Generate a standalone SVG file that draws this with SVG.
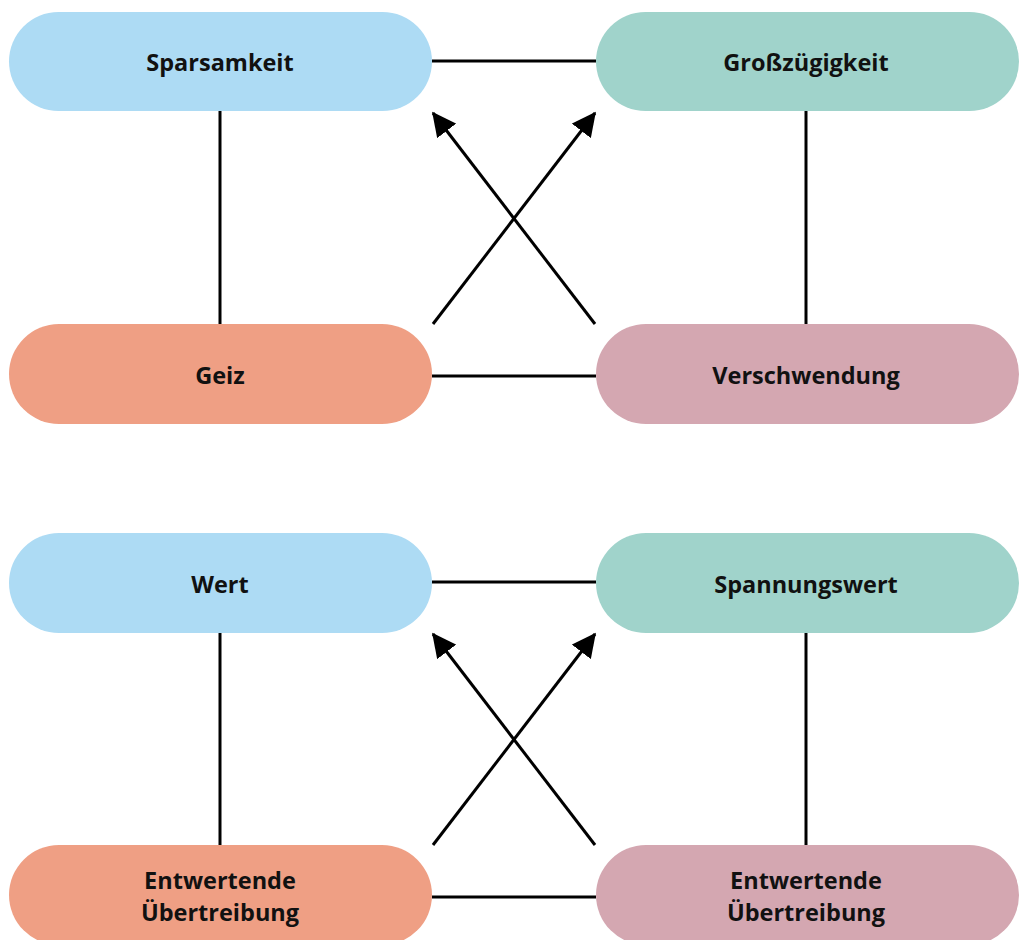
<svg xmlns="http://www.w3.org/2000/svg" width="1019" height="940" viewBox="0 0 1019 940">
<style>
.t{font-family:"Open Sans","DejaVu Sans",sans-serif;font-weight:bold;font-size:23.5px;fill:#111;text-anchor:middle;dominant-baseline:central}
.c{stroke:#000;stroke-width:3;fill:none}
.blue{fill:#ADDBF4}.green{fill:#A0D3CB}.salmon{fill:#EF9F84}.pink{fill:#D4A7B1}
</style>
<defs>
<marker id="ah" markerWidth="8" markerHeight="8" refX="7.5" refY="4" orient="auto" markerUnits="strokeWidth">
<path d="M0,0 L8,4 L0,8 Z" fill="#000"/>
</marker>
</defs>
<g id="connectors">
<line class="c" x1="432" y1="61" x2="596" y2="61"/>
<line class="c" x1="220" y1="111" x2="220" y2="324"/>
<line class="c" x1="806" y1="111" x2="806" y2="324"/>
<line class="c" x1="432" y1="376" x2="596" y2="376"/>
<line class="c" x1="433" y1="324" x2="595" y2="113" marker-end="url(#ah)"/>
<line class="c" x1="595" y1="324" x2="433" y2="113" marker-end="url(#ah)"/>
<line class="c" x1="432" y1="582" x2="596" y2="582"/>
<line class="c" x1="220" y1="633" x2="220" y2="845"/>
<line class="c" x1="806" y1="633" x2="806" y2="845"/>
<line class="c" x1="432" y1="897" x2="596" y2="897"/>
<line class="c" x1="433" y1="845" x2="595" y2="634" marker-end="url(#ah)"/>
<line class="c" x1="595" y1="845" x2="433" y2="634" marker-end="url(#ah)"/>
</g>
<g id="n1"><rect class="blue" x="9" y="12" width="423" height="99" rx="49.5"/><text class="t" x="220" y="62">Sparsamkeit</text></g>
<g id="n2"><rect class="green" x="596" y="12" width="423" height="99" rx="49.5"/><text class="t" x="806" y="62">Großzügigkeit</text></g>
<g id="n3"><rect class="salmon" x="9" y="324" width="423" height="100" rx="50"/><text class="t" x="220" y="375">Geiz</text></g>
<g id="n4"><rect class="pink" x="596" y="324" width="423" height="100" rx="50"/><text class="t" x="806" y="375">Verschwendung</text></g>
<g id="n5"><rect class="blue" x="9" y="533" width="423" height="100" rx="50"/><text class="t" x="220" y="584">Wert</text></g>
<g id="n6"><rect class="green" x="596" y="533" width="423" height="100" rx="50"/><text class="t" x="806" y="584">Spannungswert</text></g>
<g id="n7"><rect class="salmon" x="9" y="845" width="423" height="100" rx="50"/><text class="t" x="220" y="880">Entwertende</text><text class="t" x="220" y="912">Übertreibung</text></g>
<g id="n8"><rect class="pink" x="596" y="845" width="423" height="100" rx="50"/><text class="t" x="806" y="880">Entwertende</text><text class="t" x="806" y="912">Übertreibung</text></g>
</svg>
